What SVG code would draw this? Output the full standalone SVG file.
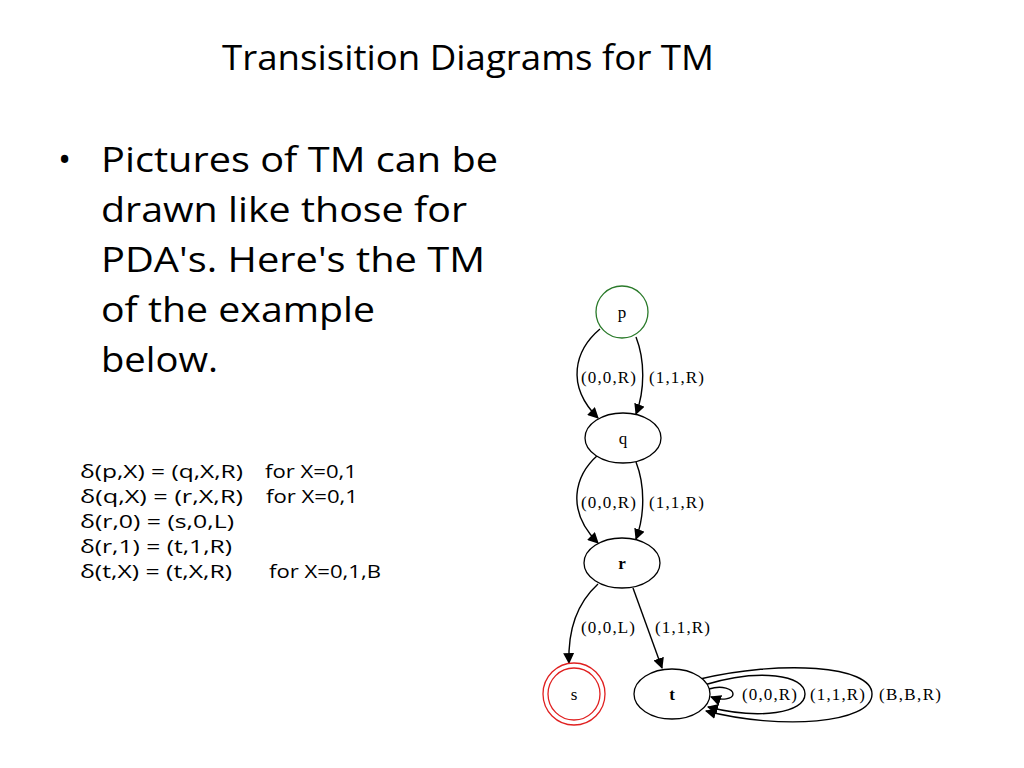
<svg xmlns="http://www.w3.org/2000/svg" width="1024" height="768" viewBox="0 0 1024 768">
<defs>
<marker id="ah" viewBox="0 0 10 10" refX="9" refY="5" markerWidth="11" markerHeight="11" markerUnits="userSpaceOnUse" orient="auto"><path d="M0,0 L10,5 L0,10 z" fill="#000"/></marker>
<style>
.t{font-family:"Open Sans","Liberation Sans",sans-serif;fill:#000}
.d{font-family:"Liberation Serif",serif;font-size:17px;fill:#000}
.n{fill:#fff;stroke:#000;stroke-width:1.3}
.e{fill:none;stroke:#000;stroke-width:1.4;marker-end:url(#ah)}
</style>
</defs>
<rect width="1024" height="768" fill="#fff"/>
<text class="t" x="222" y="70" font-size="34" textLength="492" lengthAdjust="spacingAndGlyphs">Transisition Diagrams for TM</text>
<g class="t" font-size="35">
<text x="58" y="172">•</text>
<text x="101" y="172" textLength="397" lengthAdjust="spacingAndGlyphs">Pictures of TM can be</text>
<text x="101" y="222" textLength="366" lengthAdjust="spacingAndGlyphs">drawn like those for</text>
<text x="101" y="272" textLength="384" lengthAdjust="spacingAndGlyphs">PDA's. Here's the TM</text>
<text x="101" y="322" textLength="274" lengthAdjust="spacingAndGlyphs">of the example</text>
<text x="101" y="372" textLength="117" lengthAdjust="spacingAndGlyphs">below.</text>
</g>
<g class="t" font-size="19">
<text x="80" y="478" textLength="163" lengthAdjust="spacingAndGlyphs">δ(p,X) = (q,X,R)</text><text x="265" y="478" textLength="92" lengthAdjust="spacingAndGlyphs">for X=0,1</text>
<text x="80" y="503" textLength="163" lengthAdjust="spacingAndGlyphs">δ(q,X) = (r,X,R)</text><text x="266" y="503" textLength="92" lengthAdjust="spacingAndGlyphs">for X=0,1</text>
<text x="80" y="528" textLength="154" lengthAdjust="spacingAndGlyphs">δ(r,0) = (s,0,L)</text>
<text x="80" y="553" textLength="152" lengthAdjust="spacingAndGlyphs">δ(r,1) = (t,1,R)</text>
<text x="80" y="578" textLength="152" lengthAdjust="spacingAndGlyphs">δ(t,X) = (t,X,R)</text><text x="269" y="578" textLength="112" lengthAdjust="spacingAndGlyphs">for X=0,1,B</text>
</g>
<g id="connectors">
<path class="e" d="M600,329 C575,350 565,385 598,418"/>
<path class="e" d="M636,337 C645,360 645,390 636,414"/>
<path class="e" d="M598,455 C575,475 565,510 598,543"/>
<path class="e" d="M636,462 C645,485 645,515 636,539"/>
<path class="e" d="M598,584 C575,605 568,635 569,663"/>
<path class="e" d="M633,588 L662,668"/>
<path class="e" d="M709,689 C722,685 733,689 733,694 C733,699 722,701 711,697"/>
<path class="e" d="M704,685 C760,668 805,675 805,694 C805,713 760,720 708,707"/>
<path class="e" d="M700,679 C780,660 872,665 872,694 C872,724 780,730 706,711"/>
</g>
<g class="d">
<text x="581" y="383" textLength="55">(0,0,R)</text><text x="649" y="383" textLength="55">(1,1,R)</text>
<text x="581" y="508" textLength="55">(0,0,R)</text><text x="649" y="508" textLength="55">(1,1,R)</text>
<text x="581" y="633" textLength="54">(0,0,L)</text><text x="655" y="633" textLength="55">(1,1,R)</text>
<text x="742" y="700" textLength="55">(0,0,R)</text><text x="810" y="700" textLength="55">(1,1,R)</text><text x="879" y="700" textLength="62">(B,B,R)</text>
</g>
<g id="p"><circle cx="622" cy="312" r="26" class="n" style="stroke:#2a7a2a"/><text class="d" x="622" y="318" text-anchor="middle">p</text></g>
<g id="q"><ellipse cx="623" cy="438" rx="38" ry="25" class="n"/><text class="d" x="623" y="444" text-anchor="middle">q</text></g>
<g id="r"><ellipse cx="622" cy="563" rx="38" ry="25" class="n"/><text class="d" x="622" y="569" text-anchor="middle" font-weight="bold">r</text></g>
<g id="s"><circle cx="574" cy="694" r="31" fill="#fff" stroke="#e02020" stroke-width="1.3"/><circle cx="574" cy="694" r="26" fill="none" stroke="#e02020" stroke-width="1.3"/><text class="d" x="574" y="700" text-anchor="middle">s</text></g>
<g id="t"><ellipse cx="672" cy="694" rx="38" ry="25" class="n"/><text class="d" x="672" y="700" text-anchor="middle" font-weight="bold">t</text></g>
</svg>
